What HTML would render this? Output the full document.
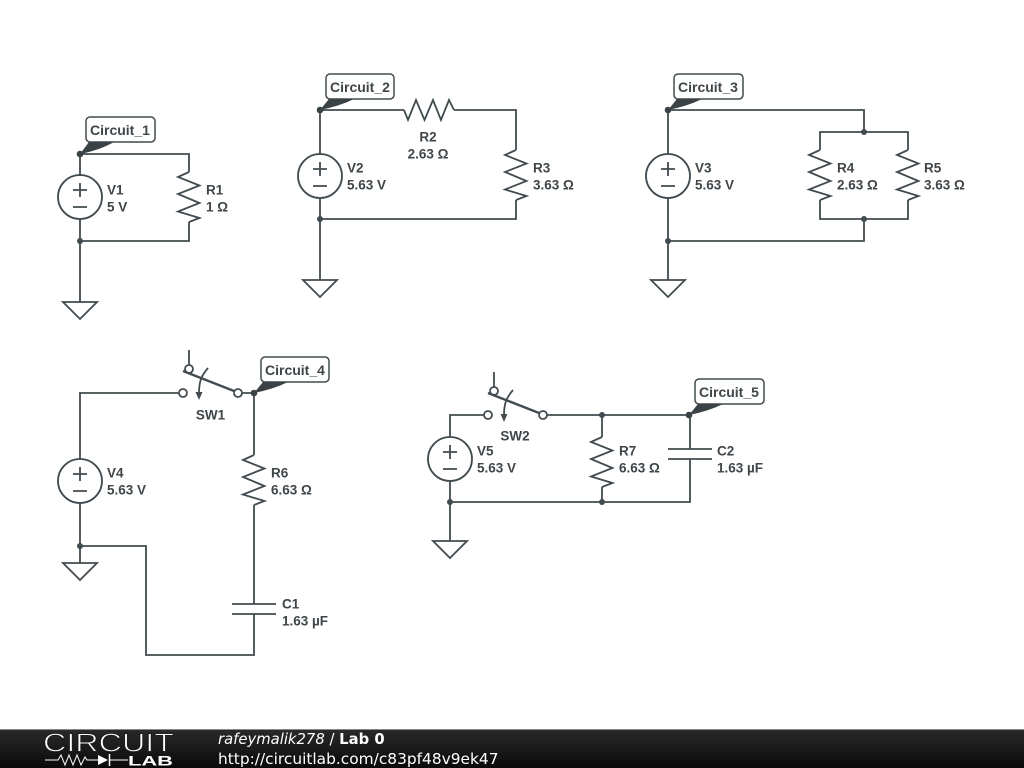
<!DOCTYPE html>
<html><head><meta charset="utf-8"><style>
html,body{margin:0;padding:0;background:#fff}
svg{display:block}
.w{fill:none;stroke:#424b4f;stroke-width:1.800}
.l{font:bold 13.500px "Liberation Sans",sans-serif;fill:#3f4649;transform:translateY(.6px)}
.t{font:bold 14px "Liberation Sans",sans-serif;fill:#3f4649}
.f{font-family:"DejaVu Sans",sans-serif;fill:#fff}
</style></head><body>
<svg width="1024" height="768" viewBox="0 0 1024 768" xmlns="http://www.w3.org/2000/svg">
<defs>
<linearGradient id="g" x1="0" y1="0" x2="0" y2="1"><stop offset="0" stop-color="#2a2a2a"/><stop offset="1" stop-color="#0a0a0a"/></linearGradient>
<g id="rv"><path class="w" d="M0,0L-11,5 10.500,13.500 -11,22 10.500,31 -11,39.500 10.500,46 0,50"/></g>
<g id="rh"><path class="w" d="M0,0L4,10 12,-10 20.500,10 29,-10 37,10 45,-10 50,0"/></g>
<g id="vs"><circle class="w" cx="0" cy="0" r="22"/><path class="w" d="M-7,-7H7M0,-14V0M-7,10H7"/></g>
<g id="gnd"><path class="w" d="M-17,0H17L0,17Z"/></g>
<g id="sw"><circle class="w" cx="0" cy="0" r="4"/><circle class="w" cx="55" cy="0" r="4"/><circle class="w" cx="6" cy="-24" r="4"/>
<path class="w" d="M6,-28V-43M25,-25C20,-19 16,-14 16,0"/><path class="w" style="stroke-width:2.400" d="M0,-22L51,-2"/><path d="M12.500,-1H19.500L16,7Z" fill="#424b4f"/></g>
</defs>
<rect width="1024" height="768" fill="#fff"/>

<!-- Circuit 1 -->
<path class="w" d="M80,154H189V172M189,222V241H80M80,154V176M80,219V302"/>
<use href="#rv" x="189" y="172"/><use href="#vs" x="80" y="197"/><use href="#gnd" x="80" y="302"/>
<circle cx="80" cy="241" r="3" fill="#424b4f"/>
<text class="l" x="107" y="194">V1</text><text class="l" x="107" y="211">5 V</text>
<text class="l" x="206" y="194">R1</text><text class="l" x="206" y="211">1 Ω</text>

<!-- Circuit 2 -->
<path class="w" d="M320,110H404M454,110H516V150M516,200V219H320M320,110V154M320,198V280"/>
<use href="#rh" x="404" y="110"/><use href="#rv" x="516" y="150"/><use href="#vs" x="320" y="176"/><use href="#gnd" x="320" y="280"/>
<circle cx="320" cy="219" r="3" fill="#424b4f"/>
<text class="l" x="347" y="172">V2</text><text class="l" x="347" y="189">5.63 V</text>
<text class="l" x="428" y="141" text-anchor="middle">R2</text><text class="l" x="428" y="158" text-anchor="middle">2.63 Ω</text>
<text class="l" x="533" y="172">R3</text><text class="l" x="533" y="189">3.63 Ω</text>

<!-- Circuit 3 -->
<path class="w" d="M668,110H864V132M820,150V132H908V150M820,200V219H908V200M864,219V241H668M668,110V154M668,198V280"/>
<use href="#rv" x="820" y="150"/><use href="#rv" x="908" y="150"/><use href="#vs" x="668" y="176"/><use href="#gnd" x="668" y="280"/>
<circle cx="864" cy="132" r="3" fill="#424b4f"/><circle cx="864" cy="219" r="3" fill="#424b4f"/><circle cx="668" cy="241" r="3" fill="#424b4f"/>
<text class="l" x="695" y="172">V3</text><text class="l" x="695" y="189">5.63 V</text>
<text class="l" x="837" y="172">R4</text><text class="l" x="837" y="189">2.63 Ω</text>
<text class="l" x="924" y="172">R5</text><text class="l" x="924" y="189">3.63 Ω</text>

<!-- Circuit 4 -->
<path class="w" d="M179,393H80V459M80,503V563M80,546H146V655H254V614M254,604V505M254,455V393H242"/>
<use href="#sw" x="183" y="393"/><use href="#rv" x="254" y="455"/><use href="#vs" x="80" y="481"/><use href="#gnd" x="80" y="563"/>
<path class="w" d="M232,604H276M232,614H276"/>
<circle cx="80" cy="546" r="3" fill="#424b4f"/>
<text class="l" x="210.500" y="419" text-anchor="middle">SW1</text>
<text class="l" x="107" y="477">V4</text><text class="l" x="107" y="494">5.63 V</text>
<text class="l" x="271" y="477">R6</text><text class="l" x="271" y="494">6.63 Ω</text>
<text class="l" x="282" y="608">C1</text><text class="l" x="282" y="625">1.63 µF</text>

<!-- Circuit 5 -->
<path class="w" d="M484,415H450V437M450,481V541M450,502H690V459M690,449V415H547M602,415V437M602,487V502"/>
<use href="#sw" x="488" y="415"/><use href="#rv" x="602" y="437"/><use href="#vs" x="450" y="459"/><use href="#gnd" x="450" y="541"/>
<path class="w" d="M668,449H712M668,459H712"/>
<circle cx="602" cy="415" r="3" fill="#424b4f"/><circle cx="602" cy="502" r="3" fill="#424b4f"/><circle cx="450" cy="502" r="3" fill="#424b4f"/>
<text class="l" x="515" y="440" text-anchor="middle">SW2</text>
<text class="l" x="477" y="455">V5</text><text class="l" x="477" y="472">5.63 V</text>
<text class="l" x="619" y="455">R7</text><text class="l" x="619" y="472">6.63 Ω</text>
<text class="l" x="717" y="455">C2</text><text class="l" x="717" y="472">1.63 µF</text>

<!-- Tags -->
<g fill="#fff" stroke="#424b4f" stroke-width="1.500">
<rect x="86" y="117" width="69" height="25" rx="4"/>
<rect x="326" y="74" width="68" height="25" rx="4"/>
<rect x="674" y="74" width="69" height="25" rx="4"/>
<rect x="261" y="357" width="68" height="25" rx="4"/>
<rect x="695" y="379" width="69" height="25" rx="4"/>
</g>
<g fill="#3a4245">
<path d="M80,154L89,142H114Q100,150 80,154Z"/><circle cx="80" cy="154" r="3.300"/>
<path d="M320,110L329,99H354Q340,106 320,110Z"/><circle cx="320" cy="110" r="3.300"/>
<path d="M668,110L677,99H702Q688,106 668,110Z"/><circle cx="668" cy="110" r="3.300"/>
<path d="M254,393L263,382H288Q274,389 254,393Z"/><circle cx="254" cy="393" r="3.300"/>
<path d="M689,415L698,404H723Q709,411 689,415Z"/><circle cx="689" cy="415" r="3.300"/>
</g>
<text class="t" x="90" y="135">Circuit_1</text>
<text class="t" x="330" y="92">Circuit_2</text>
<text class="t" x="678" y="92">Circuit_3</text>
<text class="t" x="265" y="375">Circuit_4</text>
<text class="t" x="699" y="397">Circuit_5</text>

<!-- Footer -->
<rect x="0" y="729" width="1024" height="39" fill="url(#g)"/>
<rect x="0" y="729" width="1024" height="1" fill="#8a8a8a"/>
<text x="43" y="751.500" font-family="Liberation Sans,sans-serif" font-size="26" fill="#fff" stroke="#1e1e1e" stroke-width="0.900" textLength="131" lengthAdjust="spacingAndGlyphs">CIRCUIT</text>
<path d="M45,760H58L61,755 65,765 69,755 73,765 77,755 81,765 85,757 87,760H98M110,760H128" fill="none" stroke="#fff" stroke-width="1"/>
<path d="M98,755V765L108,760Z" fill="#fff"/><path d="M109.500,754V766" stroke="#fff" stroke-width="1.500"/>
<text x="128" y="765.500" font-family="Liberation Sans,sans-serif" font-weight="bold" font-size="13.500" fill="#fff" textLength="45" lengthAdjust="spacingAndGlyphs">LAB</text>
<text class="f" x="218" y="744" font-size="14.800"><tspan font-style="italic">rafeymalik278</tspan> / <tspan font-weight="bold">Lab 0</tspan></text>
<text class="f" x="218" y="764" font-size="15.400">http://circuitlab.com/c83pf48v9ek47</text>
</svg>
</body></html>
